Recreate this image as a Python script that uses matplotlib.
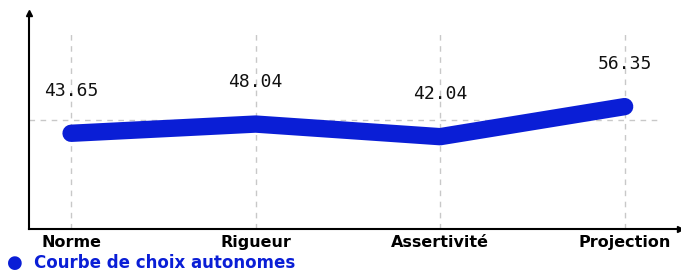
import matplotlib
matplotlib.use("Agg")
import matplotlib.pyplot as plt

categories = ["Norme", "Rigueur", "Assertivité", "Projection"]
values = [43.65, 48.04, 42.04, 56.35]
value_labels = ["43.65", "48.04", "42.04", "56.35"]
series_name = "Courbe de choix autonomes"

blue = "#0a1ed6"
W, H = 681, 272
fig = plt.figure(figsize=(W / 100, H / 100), dpi=100)
ax = fig.add_axes([29 / W, (H - 229) / H, (680 - 29) / W, (229 - 13) / H])

x = list(range(len(categories)))
ax.set_xlim(-0.228, 3.30)
ax.set_ylim(-1.9, 100.9)

# grid
ax.vlines(x, -1.9, 91, colors="#c8c8c8", linestyles=(0, (4, 4)), linewidth=1)
ax.hlines(50, -0.228, 3.2, colors="#c8c8c8", linestyles=(0, (4, 4)), linewidth=1)

ax.plot(x, values, color=blue, linewidth=12.5, solid_capstyle="round",
        solid_joinstyle="round", zorder=3)

for xi, v, lab in zip(x, values, value_labels):
    ax.annotate(lab, (xi, v), xytext=(0, 24), textcoords="offset points",
                ha="center", va="bottom", fontsize=13,
                family="DejaVu Sans Mono", color="#111111")

for s in ["top", "right"]:
    ax.spines[s].set_visible(False)
ax.spines["left"].set_linewidth(1.5)
ax.spines["bottom"].set_linewidth(1.5)
ax.set_yticks([])
ax.set_xticks(x)
ax.set_xticklabels(categories, fontsize=11.5, fontweight="bold", family="DejaVu Sans")
ax.tick_params(axis="x", length=0, pad=4)

# axis arrows
ax.plot(0, 1, "^k", markersize=5, transform=ax.transAxes, clip_on=False)
ax.plot(1, 0, ">k", markersize=5, transform=ax.transAxes, clip_on=False)

# legend
fig.text(15 / W, 1 - 263 / H, "●", color=blue, fontsize=13, ha="center", va="center")
fig.text(34 / W, 1 - 263 / H, series_name, color=blue, fontsize=12,
         fontweight="bold", ha="left", va="center", family="DejaVu Sans")

fig.savefig("out.png", dpi=100)
